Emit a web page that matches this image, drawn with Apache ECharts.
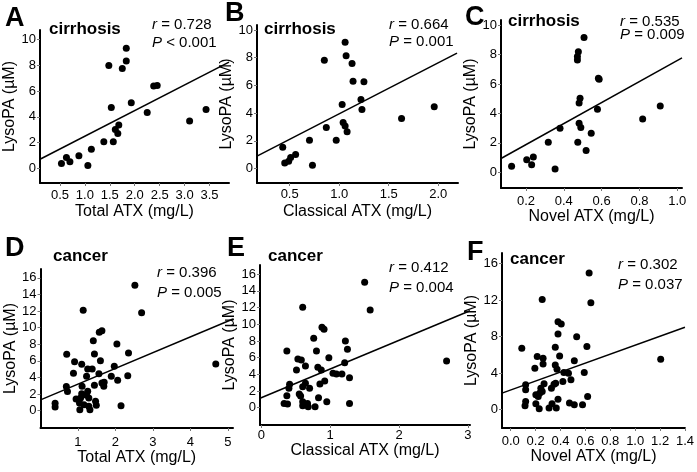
<!DOCTYPE html>
<html>
<head>
<meta charset="utf-8">
<script src="https://cdn.jsdelivr.net/npm/echarts@6/dist/echarts.min.js"></script>
<style>
  html, body { margin: 0; padding: 0; background: #fff; }
  #chart { width: 697px; height: 472px; }
</style>
</head>
<body>
<div id="chart"></div>
<script>
// values: [ATX mg/L, LysoPA µM]
const cirTotal = [[0.53,0.39],[0.63,0.85],[0.70,0.52],[0.88,0.98],[1.06,0.23],[1.13,1.50],[1.38,2.07],[1.48,7.98],[1.53,4.73],[1.57,2.07],[1.61,3.02],[1.66,2.71],[1.68,3.36],[1.75,7.75],[1.83,9.30],[1.83,8.32],[1.93,5.09],[2.25,4.34],[2.38,6.38],[2.45,6.43],[3.10,3.67],[3.43,4.57]];
const cirClassical = [[0.43,1.54],[0.45,0.41],[0.49,0.53],[0.51,0.80],[0.56,1.01],[0.70,2.05],[0.73,0.24],[0.85,7.81],[0.87,2.96],[0.97,2.05],[1.03,4.63],[1.04,3.33],[1.06,9.11],[1.06,3.08],[1.07,8.14],[1.08,2.65],[1.13,7.59],[1.14,6.31],[1.22,4.99],[1.23,4.27],[1.25,6.27],[1.63,3.61],[1.96,4.46]];
const cirNovel = [[0.124,0.41],[0.204,0.86],[0.23,0.52],[0.239,1.04],[0.354,0.23],[0.318,2.05],[0.38,3.0],[0.472,7.86],[0.477,8.19],[0.472,7.63],[0.507,9.16],[0.481,4.70],[0.486,5.03],[0.481,3.34],[0.49,3.05],[0.474,2.05],[0.518,1.49],[0.545,2.66],[0.578,4.29],[0.587,6.32],[0.583,6.39],[0.817,3.63],[0.91,4.51]];
const canTotal = [[0.70,6.8],[0.69,2.9],[0.72,2.3],[0.39,0.9],[0.39,0.44],[0.88,4.5],[0.91,5.9],[1.04,0.92],[1.05,0.12],[1.07,1.53],[1.10,2.05],[1.11,2.93],[1.10,5.58],[1.14,12.1],[0.95,1.4],[1.16,0.72],[1.23,1.85],[1.26,2.33],[1.26,5.02],[1.23,4.14],[1.29,0.52],[1.32,0.12],[1.29,1.53],[1.38,5.02],[1.41,8.43],[1.44,6.83],[1.44,3.05],[1.47,1.12],[1.49,0.64],[1.56,4.46],[1.57,9.44],[1.64,9.64],[1.60,6.02],[1.64,3.33],[1.69,2.93],[1.70,3.41],[1.89,4.14],[1.97,5.34],[2.04,8.03],[2.06,3.65],[2.15,0.60],[2.33,4.22],[2.35,6.95],[2.52,15.1],[2.70,11.8],[4.68,5.62]];
const canClassical = [[0.37,6.8],[0.33,0.52],[0.38,0.44],[0.37,1.44],[0.40,2.32],[0.41,2.8],[0.51,4.52],[0.53,5.84],[0.58,5.72],[0.55,1.64],[0.57,1.4],[0.60,12.04],[0.60,2.52],[0.60,0.72],[0.60,0.24],[0.64,5.0],[0.64,2.92],[0.67,0.52],[0.68,0.12],[0.70,2.32],[0.76,8.32],[0.78,0.12],[0.80,6.8],[0.82,4.84],[0.83,1.2],[0.85,2.84],[0.87,4.52],[0.88,9.64],[0.91,9.4],[0.92,3.2],[0.95,0.72],[0.98,6.0],[1.04,4.12],[1.09,4.04],[1.17,4.04],[1.21,5.4],[1.22,8.0],[1.25,7.0],[1.28,3.6],[1.28,0.52],[1.50,15.04],[1.58,11.72],[2.69,5.6]];
const canNovel = [[0.089,6.73],[0.12,2.73],[0.12,2.18],[0.12,0.91],[0.115,0.44],[0.194,4.55],[0.213,5.82],[0.202,1.64],[0.202,0.65],[0.221,1.45],[0.229,0.11],[0.234,1.82],[0.242,2.36],[0.253,12.07],[0.26,5.64],[0.26,5.02],[0.253,2.0],[0.268,2.84],[0.308,0.18],[0.327,2.36],[0.332,0.65],[0.348,2.8],[0.358,6.84],[0.358,4.91],[0.361,2.91],[0.366,0.18],[0.38,1.16],[0.372,4.44],[0.38,8.29],[0.38,9.64],[0.406,9.38],[0.393,5.89],[0.419,3.09],[0.427,4.07],[0.472,0.73],[0.464,4.0],[0.484,3.27],[0.511,5.35],[0.511,0.55],[0.53,8.0],[0.577,0.55],[0.591,4.07],[0.612,6.91],[0.618,1.45],[0.63,14.98],[0.644,11.71],[1.205,5.53]];

// regression lines, end points
const fitA = [[0.1,0.72],[3.89,8.24]];
const fitB = [[0.17,0.9],[2.19,8.33]];
const fitC = [[0.068,0.94],[1.025,7.77]];
const fitD = [[0,1.3],[5.14,11.04]];
const fitE = [[-0.02,1.13],[3.03,11.62]];
const fitF = [[-0.07,1.82],[1.4,9.03]];

// tick labels
const yTicksCir = [0, 2, 4, 6, 8, 10];
const yTicksCan = [0, 2, 4, 6, 8, 10, 12, 14, 16];
const yTicksCanF = [0, 4, 8, 12, 16];
const xTicksA = [0.5, 1.0, 1.5, 2.0, 2.5, 3.0, 3.5];
const xTicksB = [0.5, 1.0, 1.5, 2.0];
const xTicksC = [0.2, 0.4, 0.6, 0.8, 1.0];
const xTicksD = [1, 2, 3, 4, 5];
const xTicksE = [0, 1, 2, 3];
const xTicksF = [0, 0.2, 0.4, 0.6, 0.8, 1.0, 1.2, 1.4];

const letters = ['A', 'B', 'C', 'D', 'E', 'F'];
const groups = ['cirrhosis', 'cirrhosis', 'cirrhosis', 'cancer', 'cancer', 'cancer'];
const rValues = ['0.728', '0.664', '0.535', '0.396', '0.412', '0.302'];
const pValues = ['< 0.001', '= 0.001', '= 0.009', '= 0.005', '= 0.004', '= 0.037'];
const xNames = ['Total ATX (mg/L)', 'Classical ATX (mg/L)', 'Novel ATX (mg/L)',
                'Total ATX (mg/L)', 'Classical ATX (mg/L)', 'Novel ATX (mg/L)'];

const FONT = '"Liberation Sans", Arial, sans-serif';

// layout of each small plot
const panels = [
  { pts: cirTotal, fit: fitA, grid: [40, 30, 189, 153], x: [0.1, 3.89], y: [-1.12, 10.72], xt: xTicksA, yt: yTicksCir, dec: 1,
    lm: 6, ng: 21, yg: 22, letter: [5, 18.5], group: [49, 29.4], stat: [152, 24.7, 43] },
  { pts: cirClassical, fit: fitB, grid: [257, 25, 201, 158], x: [0.17, 2.2], y: [-1.04, 10.36], xt: xTicksB, yt: yTicksCir, dec: 1,
    lm: 5, ng: 21, yg: 18, letter: [225, 13.5], group: [264, 29.4], stat: [389, 24.7, 41.4] },
  { pts: cirNovel, fit: fitC, grid: [501, 20, 181, 168], x: [0.068, 1.025], y: [-1.06, 10.34], xt: xTicksC, yt: yTicksCir, dec: 1,
    lm: 7, ng: 20, yg: 16, letter: [465, 17.5], group: [508, 21], stat: [620, 21.4, 34.7] },
  { pts: canTotal, fit: fitD, grid: [40.5, 269, 192.5, 159], x: [0, 5.14], y: [-2.09, 17.07], xt: xTicksD, yt: yTicksCan, dec: 0,
    lm: 8, ng: 16, yg: 21, letter: [5, 248.5], group: [53, 256], stat: [157, 273, 293] },
  { pts: canClassical, fit: fitE, grid: [260, 265, 210, 160], x: [-0.02, 3.03], y: [-2.07, 17.1], xt: xTicksE, yt: yTicksCan, dec: 0,
    lm: 4, ng: 16, yg: 18, letter: [227, 248.5], group: [268, 256], stat: [389, 268, 288] },
  { pts: canNovel, fit: fitF, grid: [502, 253, 185, 175], x: [-0.07, 1.4], y: [-2.0, 17.16], xt: xTicksF, yt: yTicksCanF, dec: 1,
    lm: 7, ng: 14, yg: 15, letter: [467, 252.5], group: [510, 259], stat: [618, 264.7, 284.7] }
];

const chart = echarts.init(document.getElementById('chart'));

const grid = [], xAxis = [], yAxis = [], series = [], graphic = [];

panels.forEach(function (p, i) {
  grid.push({ left: p.grid[0], top: p.grid[1], width: p.grid[2], height: p.grid[3], containLabel: false });

  xAxis.push({
    type: 'value', gridIndex: i, min: p.x[0], max: p.x[1],
    axisLine: { show: true, onZero: false, lineStyle: { color: '#000', width: 2 } },
    axisTick: { show: true, length: 3, customValues: p.xt, lineStyle: { color: '#777' } },
    axisLabel: { customValues: p.xt, margin: p.lm, color: '#000', fontSize: 13, fontFamily: FONT,
      formatter: function (v) { return v.toFixed(p.dec); } },
    splitLine: { show: false },
    name: xNames[i], nameLocation: 'middle', nameGap: p.ng,
    nameTextStyle: { color: '#000', fontSize: 16, fontFamily: FONT }
  });

  yAxis.push({
    type: 'value', gridIndex: i, min: p.y[0], max: p.y[1],
    axisLine: { show: true, onZero: false, lineStyle: { color: '#000', width: 2 } },
    axisTick: { show: true, length: 3, customValues: p.yt, lineStyle: { color: '#777' } },
    axisLabel: { customValues: p.yt, margin: 4, color: '#000', fontSize: 13, fontFamily: FONT },
    splitLine: { show: false },
    name: 'LysoPA (µM)', nameLocation: 'middle', nameGap: p.yg,
    nameTextStyle: { color: '#000', fontSize: 16, fontFamily: FONT }
  });

  series.push({
    type: 'scatter', xAxisIndex: i, yAxisIndex: i, data: p.pts,
    symbolSize: 7, itemStyle: { color: '#000', opacity: 1 }, silent: true
  });
  series.push({
    type: 'line', xAxisIndex: i, yAxisIndex: i, data: p.fit,
    showSymbol: false, symbol: 'none', lineStyle: { color: '#000', width: 1.5 }, silent: true
  });

  graphic.push({
    type: 'text', x: p.letter[0], y: p.letter[1],
    style: { text: letters[i], fill: '#000', fontSize: 27, fontWeight: 'bold', fontFamily: FONT, textVerticalAlign: 'middle' }
  });
  graphic.push({
    type: 'text', x: p.group[0], y: p.group[1],
    style: { text: groups[i], fill: '#000', fontSize: 17, fontWeight: 'bold', fontFamily: FONT, textVerticalAlign: 'middle' }
  });
  graphic.push({
    type: 'text', x: p.stat[0], y: p.stat[1],
    style: { text: '{i|r} = ' + rValues[i], fill: '#000', fontSize: 15, fontFamily: FONT, textVerticalAlign: 'middle',
      rich: { i: { fontStyle: 'italic', fontSize: 15, fontFamily: FONT, fill: '#000' } } }
  });
  graphic.push({
    type: 'text', x: p.stat[0], y: p.stat[2],
    style: { text: '{i|P} ' + pValues[i], fill: '#000', fontSize: 15, fontFamily: FONT, textVerticalAlign: 'middle',
      rich: { i: { fontStyle: 'italic', fontSize: 15, fontFamily: FONT, fill: '#000' } } }
  });
});

chart.setOption({
  animation: false,
  backgroundColor: '#fff',
  grid: grid,
  xAxis: xAxis,
  yAxis: yAxis,
  series: series,
  graphic: graphic
});
</script>
</body>
</html>
